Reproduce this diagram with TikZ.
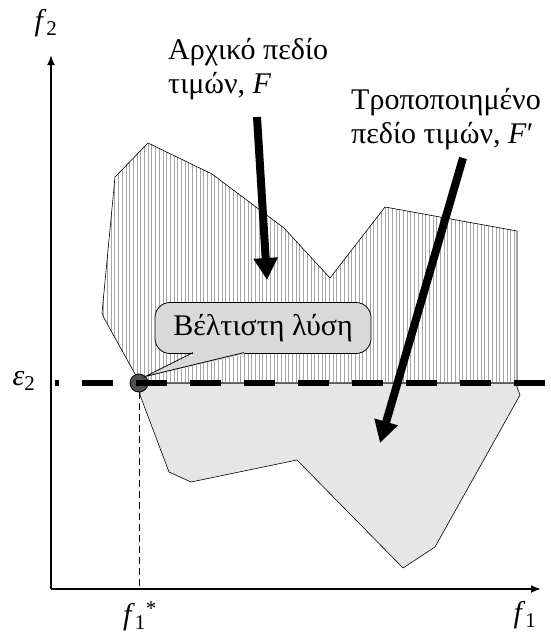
\documentclass[tikz,border=0pt]{standalone}
\usepackage{fontspec}
\setmainfont{Liberation Serif}
\usetikzlibrary{arrows.meta,patterns.meta,positioning,calc}
\definecolor{RegionGray}{RGB}{230,230,230}
\definecolor{BubbleGray}{RGB}{217,217,217}
\definecolor{HatchGray}{RGB}{165,165,165}
\definecolor{DotGray}{RGB}{80,80,80}
\newcommand{\fvar}[1]{\textit{f}\textsubscript{#1}}
\tikzset{
  axis/.style={-{Latex[length=10pt,width=8pt]},line width=1.8pt},
  bigarrow/.style={-{Triangle[length=22pt,width=23pt]},line width=8pt},
  lbl/.style={font=\fontsize{30}{34}\selectfont,inner sep=0pt},
  bubble/.style={draw,line width=0.8pt,fill=BubbleGray,rounded corners=15pt,
    font=\fontsize{30}{34}\selectfont,inner sep=0pt,
    minimum width=216pt,minimum height=51pt},
}

\begin{document}
\begin{tikzpicture}[x=1pt,y=-1pt]
  \useasboundingbox (0,0) rectangle (550,637);
  \coordinate (O) at (51,589);
  \coordinate (ytip) at (51,55);
  \coordinate (xtip) at (541,589);
  % regions
  \fill[RegionGray,draw=black,line width=0.6pt] (140,383) -- (517,383) -- (517,387)
    -- (520,395) -- (435,547) -- (403,568) -- (297,460) -- (191,482) -- (169,472)
    -- (140,395) -- cycle;
  \draw[line width=0.6pt,pattern={Lines[angle=90,distance=3.7pt,line width=0.5pt]},
    pattern color=HatchGray] (140,383) -- (104,318) -- (102,313) -- (115,177)
    -- (148,143) -- (212,174) -- (284,228) -- (330,278) -- (385,207) -- (517,231)
    -- (517,383) -- cycle;
  % axes
  \draw[axis] (O) -- (ytip);
  \draw[axis] (O) -- (xtip);
  \node[circle,fill=DotGray,draw,line width=0.8pt,minimum size=18pt,inner sep=0pt]
    (opt) at (139,383) {};
  \coordinate (f1opt) at (opt |- O);
  \draw[dashed,line width=0.6pt,dash pattern=on 7pt off 4pt] (opt) -- (f1opt);
  \coordinate (epsL) at (55,383);
  \coordinate (epsR) at (550,383);
  \draw[line width=6pt,dash pattern=on 31pt off 23pt,dash phase=27pt] (epsL) -- (epsR);
  % callout
  \node[bubble] (best) at (263,328) {Βέλτιστη λύση};
  \fill[BubbleGray] (192,349) -- (245,349) -- (244,354.5) -- (opt.north east)
    -- (193,354.5) -- cycle;
  \draw[line width=0.8pt] (193,352.6) -- (opt.north east) -- (244,352.6);
  % labels
  \node[lbl] (f2) at (46,23) {\fvar{2}};
  \node[lbl] (eps) at (24,381) {\textit{ε}\textsubscript{2}};
  \node[lbl] (f1star) at (140,616) {\textit{f}\textsubscript{1}\textsuperscript{*}};
  \node[lbl] (f1) at (525,615) {\fvar{1}};
  \node[lbl,align=left,anchor=north west] (Flbl) at (168,38) {Αρχικό πεδίο\\τιμών, \textit{F}};
  \node[lbl,align=left,anchor=north west] (Fplbl) at (351,88) {Τροποποιημένο\\πεδίο τιμών, \textit{F}′};
  \coordinate (Ftail) at (257,117);
  \coordinate (Fhead) at (267,280);
  \coordinate (Fptail) at (463,158);
  \coordinate (Fphead) at (380,443);
  \draw[bigarrow] (Ftail) -- (Fhead);
  \draw[bigarrow] (Fptail) -- (Fphead);
\end{tikzpicture}
\end{document}
